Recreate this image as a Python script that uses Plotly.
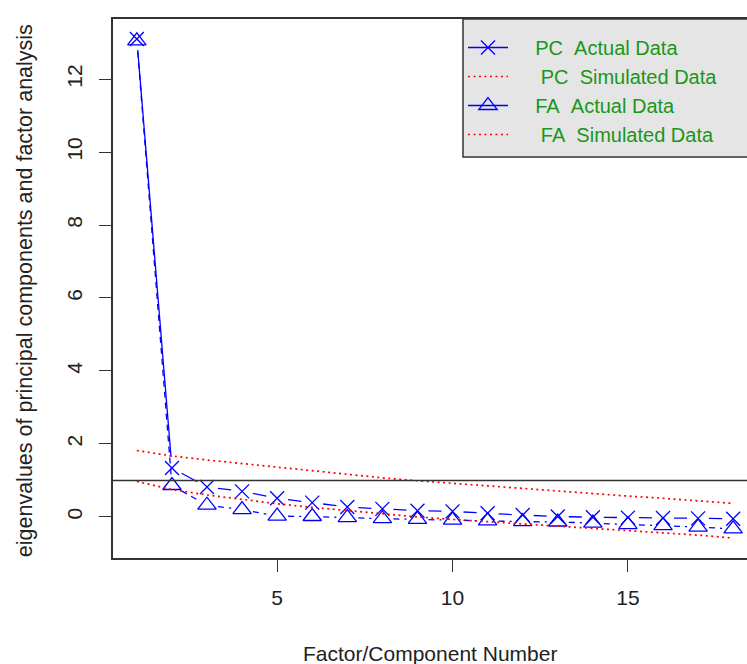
import math
import plotly.graph_objects as go

# ---------------- data ----------------
factor_number = list(range(1, 19))
pc_actual = [13.10, 1.34, 0.82, 0.70, 0.51, 0.39, 0.27, 0.22, 0.17, 0.15,
             0.10, 0.05, 0.01, -0.01, -0.02, -0.03, -0.04, -0.05]
pc_simulated = [1.82, 1.67, 1.56, 1.46, 1.36, 1.26, 1.16, 1.07, 0.99, 0.92,
                0.84, 0.76, 0.69, 0.63, 0.57, 0.51, 0.44, 0.37]
fa_actual = [13.05, 0.86, 0.32, 0.20, 0.02, 0.01, -0.02, -0.05, -0.07, -0.09,
             -0.11, -0.13, -0.14, -0.17, -0.21, -0.24, -0.28, -0.33]
fa_simulated = [0.97, 0.75, 0.60, 0.47, 0.36, 0.26, 0.17, 0.08, 0.00, -0.07,
                -0.13, -0.19, -0.25, -0.31, -0.37, -0.43, -0.50, -0.58]
x_ticks = [5, 10, 15]
y_ticks = [0, 2, 4, 6, 8, 10, 12]
kaiser_line = 1
legend_names = ["PC  Actual Data", " PC  Simulated Data",
                "FA  Actual Data", " FA  Simulated Data"]

# ---------------- layout constants ----------------
W, H = 747, 664
ML, MR, MT, MB = 113, 0, 19, 106
PW, PH = W - ML - MR, H - MT - MB
FULL_PW = 644  # original plot width (right part cropped off)
FONT = "Liberation Sans, Arial, sans-serif"
BLUE, RED, GREEN = "#0000ff", "#ff0000", "#1a961a"

# R-style axis extension (4%)
n = len(factor_number)
xr_full = [factor_number[0] - 0.04 * (n - 1), factor_number[-1] + 0.04 * (n - 1)]
x_range = [xr_full[0], xr_full[0] + (xr_full[1] - xr_full[0]) * PW / FULL_PW]
all_y = pc_actual + pc_simulated + fa_actual + fa_simulated
ymin, ymax = min(all_y), max(all_y)
yr = ymax - ymin
y_range = [ymin - 0.04 * yr, ymax + 0.04 * yr]

sx = PW / (x_range[1] - x_range[0])
sy = PH / (y_range[1] - y_range[0])


def gapped(xs, ys, gap_px=11):
    """R type='b' lines: segments shortened near each point."""
    ox, oy = [], []
    for i in range(len(xs) - 1):
        x1, y1, x2, y2 = xs[i], ys[i], xs[i + 1], ys[i + 1]
        length = math.hypot((x2 - x1) * sx, (y2 - y1) * sy)
        if length <= 2 * gap_px:
            continue
        f = gap_px / length
        ox += [x1 + (x2 - x1) * f, x2 - (x2 - x1) * f, None]
        oy += [y1 + (y2 - y1) * f, y2 - (y2 - y1) * f, None]
    return ox, oy


nb = lambda s: s.replace(" ", "\u00a0")
pad = "\u00a0" * 4

fig = go.Figure()

# PC actual
gx, gy = gapped(factor_number, pc_actual)
fig.add_trace(go.Scatter(x=gx, y=gy, mode="lines", showlegend=False,
                         line=dict(color=BLUE, width=1.3), hoverinfo="skip"))
fig.add_trace(go.Scatter(x=factor_number, y=pc_actual, mode="markers", showlegend=False,
                         marker=dict(symbol="x-thin-open", size=14, color=BLUE,
                                     line=dict(color=BLUE, width=1.3))))
# FA actual
gx, gy = gapped(factor_number, fa_actual)
fig.add_trace(go.Scatter(x=gx, y=gy, mode="lines", showlegend=False,
                         line=dict(color=BLUE, width=1.3, dash="6px,5px"), hoverinfo="skip"))
fig.add_trace(go.Scatter(x=factor_number, y=fa_actual, mode="markers", showlegend=False,
                         marker=dict(symbol="triangle-up-open", size=16, color=BLUE,
                                     line=dict(color=BLUE, width=1.3))))
# simulated
fig.add_trace(go.Scatter(x=factor_number, y=pc_simulated, mode="lines",
                         name=pad + nb(legend_names[1]), legendrank=2,
                         line=dict(color=RED, width=1.7, dash="2px,3.5px")))
fig.add_trace(go.Scatter(x=factor_number, y=fa_simulated, mode="lines",
                         name=pad + nb(legend_names[3]), legendrank=4,
                         line=dict(color=RED, width=1.7, dash="2px,3.5px")))
# legend entries for actual data
fig.add_trace(go.Scatter(x=[None], y=[None], mode="lines+markers",
                         name=pad + nb(legend_names[0]), legendrank=1,
                         line=dict(color=BLUE, width=1.3),
                         marker=dict(symbol="x-thin-open", size=14, color=BLUE,
                                     line=dict(color=BLUE, width=1.3))))
fig.add_trace(go.Scatter(x=[None], y=[None], mode="lines+markers",
                         name=pad + nb(legend_names[2]), legendrank=3,
                         line=dict(color=BLUE, width=1.3),
                         marker=dict(symbol="triangle-up-open", size=16, color=BLUE,
                                     line=dict(color=BLUE, width=1.3))))

# Kaiser line
fig.add_hline(y=kaiser_line, line=dict(color="#333333", width=1.5))

# legend box
fig.add_shape(type="rect", xref="paper", yref="paper",
              x0=(463 - ML) / PW, x1=1.03, y0=(H - MB - 157) / PH, y1=1.0,
              fillcolor="#e5e5e5", line=dict(color="#333333", width=1.5), layer="below")

fig.update_layout(
    width=W, height=H,
    margin=dict(l=ML, r=MR, t=MT, b=MB, pad=0),
    paper_bgcolor="white", plot_bgcolor="white",
    font=dict(family=FONT, size=21, color="#222222"),
    showlegend=True,
    legend=dict(x=(463 - ML) / PW, xanchor="left", y=1.0 - 9 / PH, yanchor="top",
                bgcolor="rgba(0,0,0,0)", borderwidth=0,
                font=dict(family=FONT, size=20, color=GREEN),
                itemwidth=40, traceorder="normal"),
    xaxis=dict(range=x_range, tickvals=x_ticks, ticks="outside", ticklen=12,
               tickwidth=1.3, tickcolor="#333333", showline=True, mirror=True,
               linecolor="#333333", linewidth=1.5, showgrid=False, zeroline=False,
               tickfont=dict(size=21, color="#222222"), ticklabelstandoff=8),
    yaxis=dict(range=y_range, tickvals=y_ticks, ticks="outside", ticklen=12,
               tickwidth=1.3, tickcolor="#333333", showline=True, mirror=False,
               linecolor="#333333", linewidth=1.5, showgrid=False, zeroline=False,
               tickangle=-90, tickfont=dict(size=21, color="#222222"),
               ticklabelstandoff=9),
    annotations=[
        dict(text="Factor/Component Number", xref="paper", yref="paper",
             x=0.5, y=-(653 - (H - MB)) / PH, xanchor="center", yanchor="middle",
             showarrow=False, font=dict(size=21, color="#222222")),
        dict(text="eigenvalues of principal components and factor analysis",
             xref="paper", yref="paper", x=(25 - ML) / PW, y=0.495,
             xanchor="center", yanchor="middle", textangle=-90,
             showarrow=False, font=dict(size=21.5, color="#222222")),
    ],
)

fig.write_html("out.html", config={"displayModeBar": False},
               post_script="document.body.style.margin='0';document.body.style.padding='0';")
